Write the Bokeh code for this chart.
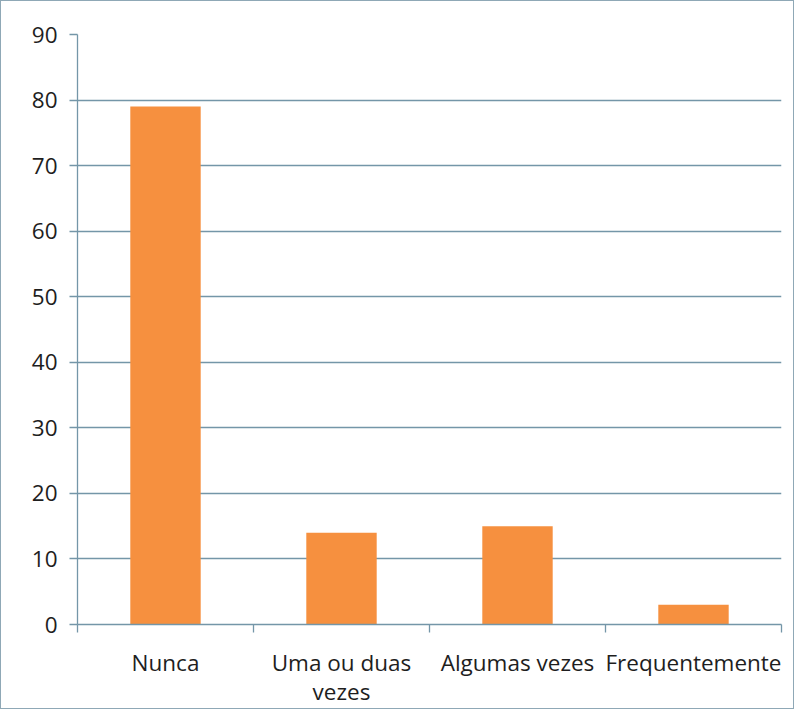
from bokeh.plotting import figure
from bokeh.models import Range1d, FixedTicker, LinearAxis
from bokeh.embed import file_html
from bokeh.resources import INLINE

categories = ["Nunca", "Uma ou duas\nvezes", "Algumas vezes", "Frequentemente"]
values = [79, 14, 15, 3]
y_ticks = [0, 10, 20, 30, 40, 50, 60, 70, 80, 90]

n = len(categories)
centers = [i + 0.5 for i in range(n)]
boundaries = list(range(n + 1))

p = figure(x_range=Range1d(0, n), y_range=Range1d(0, 90),
           width=794, height=709, x_axis_location=None,
           output_backend="svg", toolbar_location=None,
           min_border_left=76, min_border_right=14, min_border_top=33, min_border_bottom=86)
p.styles = {"border": "1.5px solid #8fa8b6"}

p.vbar(x=centers, top=values, width=0.4, fill_color="#F6903F", line_color=None)

grid_col = "#7496a8"
font = "Open Sans"
fsize = "22.5px"
txt_col = "#1e1e1e"

# boundary tick axis (no labels)
bax = LinearAxis(ticker=FixedTicker(ticks=boundaries),
                 major_label_overrides={t: "" for t in boundaries},
                 major_label_text_font_size="1px", major_label_standoff=0,
                 axis_line_color=grid_col, axis_line_width=1.3,
                 major_tick_line_color=grid_col, major_tick_line_width=1.3,
                 major_tick_in=0, major_tick_out=8, minor_tick_line_color=None)
p.add_layout(bax, "below")

# category label axis
cax = LinearAxis(ticker=FixedTicker(ticks=centers),
                 major_label_overrides={c: lab for c, lab in zip(centers, categories)},
                 axis_line_color=None, major_tick_line_color=None,
                 minor_tick_line_color=None, major_label_standoff=8,
                 major_label_text_font=font, major_label_text_font_size=fsize,
                 major_label_text_line_height=0.95,
                 major_label_text_color=txt_col)
p.add_layout(cax, "below")

p.xgrid.grid_line_color = None
p.ygrid.grid_line_color = grid_col
p.ygrid.grid_line_width = 1.3
p.yaxis.ticker = FixedTicker(ticks=y_ticks)
p.outline_line_color = None

ya = p.yaxis[0]
ya.axis_line_color = grid_col
ya.axis_line_width = 1.3
ya.major_tick_line_color = grid_col
ya.major_tick_line_width = 1.3
ya.minor_tick_line_color = None
ya.major_tick_in = 0
ya.major_tick_out = 8
ya.major_label_standoff = 12
ya.major_label_text_font = font
ya.major_label_text_font_size = fsize
ya.major_label_text_color = txt_col

p.background_fill_color = "white"
p.border_fill_color = "white"

open("out.html", "w").write(file_html(p, INLINE))
